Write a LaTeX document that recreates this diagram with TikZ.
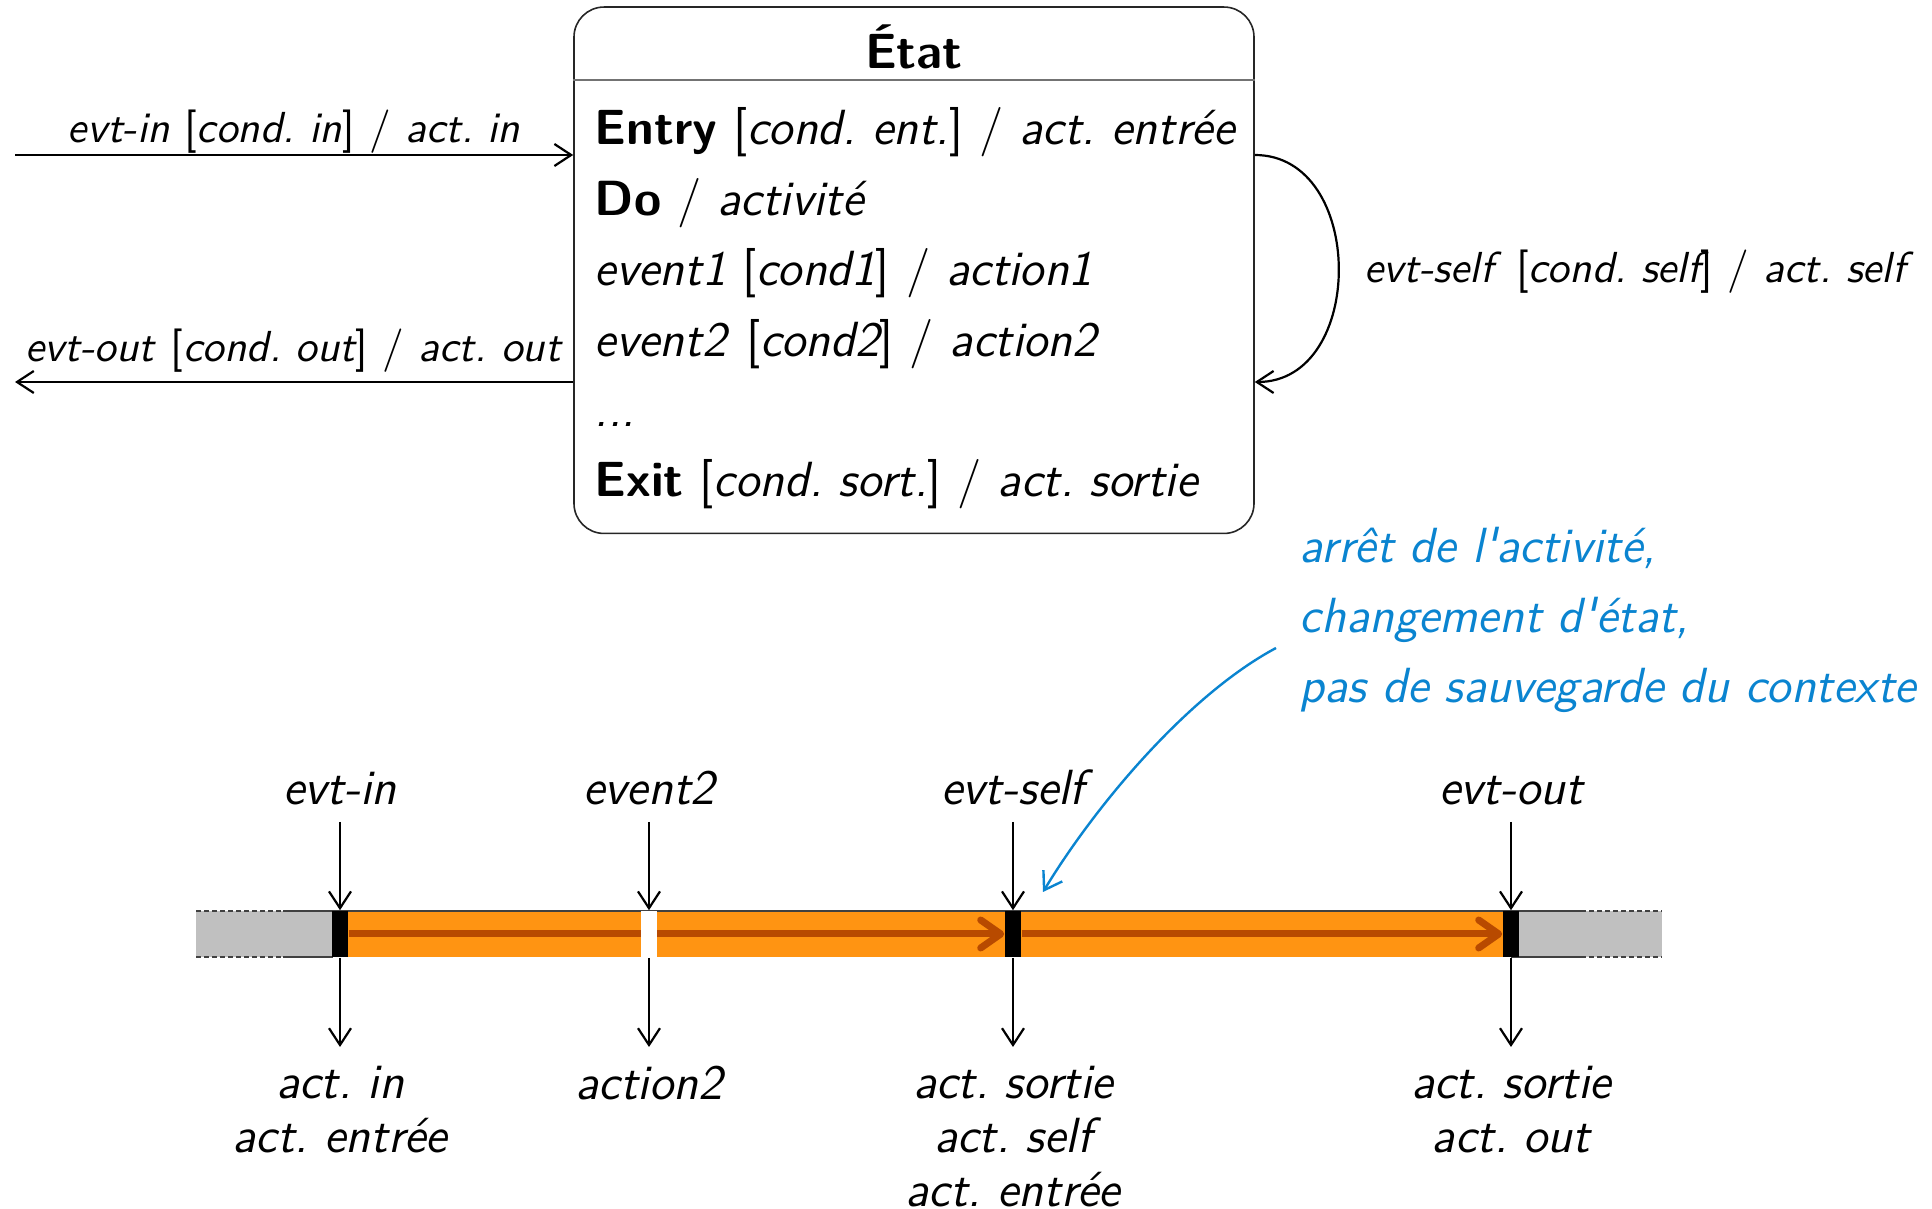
\documentclass[tikz,border=0pt]{standalone}
\usetikzlibrary{arrows.meta}
\renewcommand{\familydefault}{\sfdefault}
\definecolor{barorange}{HTML}{FF9412}
\definecolor{bardark}{HTML}{B84A00}
\definecolor{noteblue}{HTML}{0A84D0}
\definecolor{bargray}{HTML}{C0C0C0}
\pgfdeclarelayer{barlayer}
\pgfdeclarelayer{flowlayer}
\pgfsetlayers{barlayer,flowlayer,main}
\newcommand{\mainsize}{\fontsize{12.35}{14.5}\selectfont\frenchspacing}
\newcommand{\labsize}{\fontsize{10.85}{13}\selectfont\frenchspacing}
\tikzset{
  barb/.style={-{Straight Barb[length=4.2pt,width=5.5pt]}},
  conn/.style={line width=0.55pt, barb},
  lab/.style={font=\labsize},
  boxline/.style={anchor=base west, inner sep=0pt},
  evlabel/.style={anchor=south, inner xsep=0pt, inner ysep=4pt, font=\mainsize\itshape},
  actlabel/.style={anchor=north, align=center, inner xsep=0pt, inner ysep=4.5pt,
                   font=\itshape\fontsize{12.35}{13.5}\selectfont\frenchspacing},
  marker/.style={fill=black, minimum width=4pt, minimum height=11.5pt, inner sep=0pt},
  barline/.style={black!75, line width=0.4pt},
  barend/.style={barline, dash pattern=on 1.2pt off 0.8pt},
  flow/.style={bardark, line width=1.75pt, -{Straight Barb[length=5pt,width=7pt,round]}},
}
\newcommand{\trans}[3]{\textit{#1} [{\itshape #2}] / \textit{#3}}
\begin{document}
\begin{tikzpicture}[x=0.25pt, y=-0.25pt, font=\mainsize]
\useasboundingbox (0,0) rectangle (1932,1209);

% state box with its title compartment
\node[draw=black!85, line width=0.4pt, rounded corners=7.5pt,
      minimum width=170pt, minimum height=131.6pt, inner sep=0pt] (state) at (914,270.25) {};
\draw[black!55, line width=0.4pt] (state.west |- 0,80) -- (state.east |- 0,80);
\node[font=\mainsize\bfseries, anchor=base] (title) at (914,69) {État};

\node[boxline] (l1) at (594,145)   {\textbf{Entry} [{\itshape cond. ent.}] / \textit{act. entrée}};
\node[boxline] (l2) at (594,215.4) {\textbf{Do} / \textit{activité}};
\node[boxline] (l3) at (594,285.8) {\trans{event1}{cond1}{action1}};
\node[boxline] (l4) at (594,356.2) {\trans{event2}{cond2}{action2}};
\node[boxline] (l5) at (594,426.6) {\textit{...}};
\node[boxline] (l6) at (594,497)   {\textbf{Exit} [{\itshape cond. sort.}] / \textit{act. sortie}};

% incoming and outgoing transitions
\coordinate (inStart) at (15,155);
\coordinate (outEnd) at (15,382);
\draw[conn] (inStart) -- node[above, lab, inner sep=0.25pt] (tin) {\trans{evt-in}{cond. in}{act. in}} (inStart -| state.west);
\draw[conn] (state.west |- outEnd) -- node[above, lab, inner sep=2.1pt] (tout) {\trans{evt-out}{cond. out}{act. out}} (outEnd);

% self transition
\draw[conn] (state.east |- inStart) to[out=0, in=0, looseness=1.26]
  node[right, lab, inner xsep=6.25pt, inner ysep=0pt, yshift=-0.9pt] (tself) {\trans{evt-self}{cond. self}{act. self}}
  (state.east |- outEnd);

% note about the self transition
\node[noteblue, anchor=north west, align=left, inner sep=0pt,
      font=\itshape\fontsize{12.35}{17.5}\selectfont\frenchspacing] (note) at (1299,526)
  {arrêt de l\textquotesingle activité,\\changement d\textquotesingle état,\\pas de sauvegarde du contexte};
\coordinate (noteTail) at (1276,648);
\coordinate (noteTip) at (1043,892);
\draw[noteblue, line width=0.6pt, barb] (noteTail) .. controls (1188,695) and (1095,806) .. (noteTip);

% time line
\begin{pgfonlayer}{barlayer}
  \fill[bargray] (196,911) rectangle (333,957);
  \fill[bargray] (1511,911) rectangle (1662,957);
  \fill[barorange] (333,911) rectangle (1511,957);
  \draw[barend] (196,911) -- (283,911);
  \draw[barline] (283,911) -- (1581,911);
  \draw[barend] (1581,911) -- (1662,911);
  \draw[barend] (196,957) -- (283,957);
  \draw[barline] (283,957) -- (333,957);
  \draw[barline] (1511,957) -- (1581,957);
  \draw[barend] (1581,957) -- (1662,957);
\end{pgfonlayer}

\node[marker] (m1) at (340,934) {};
\node[marker, fill=white] (m2) at (649,934) {};
\node[marker] (m3) at (1013,934) {};
\node[marker] (m4) at (1511,934) {};

\begin{pgfonlayer}{flowlayer}
  \draw[flow] (m1.east) -- (m3.west);
  \draw[flow] (m3.east) -- (m4.west);
\end{pgfonlayer}

% events arriving on the time line
\node[evlabel] (e1) at (340,822)  {evt-in};
\node[evlabel] (e2) at (649,822)  {event2};
\node[evlabel] (e3) at (1013,822) {evt-self};
\node[evlabel] (e4) at (1511,822) {evt-out};
\draw[conn] (e1) -- (m1);
\draw[conn] (e2) -- (m2);
\draw[conn] (e3) -- (m3);
\draw[conn] (e4) -- (m4);

% resulting actions
\node[actlabel] (a1) at (340,1047)  {act. in\\act. entrée};
\node[actlabel] (a2) at (649,1047)  {action2};
\node[actlabel] (a3) at (1013,1047) {act. sortie\\act. self\\act. entrée};
\node[actlabel] (a4) at (1511,1047) {act. sortie\\act. out};
\draw[conn] (m1) -- (a1);
\draw[conn] (m2) -- (a2);
\draw[conn] (m3) -- (a3);
\draw[conn] (m4) -- (a4);
\end{tikzpicture}
\end{document}
